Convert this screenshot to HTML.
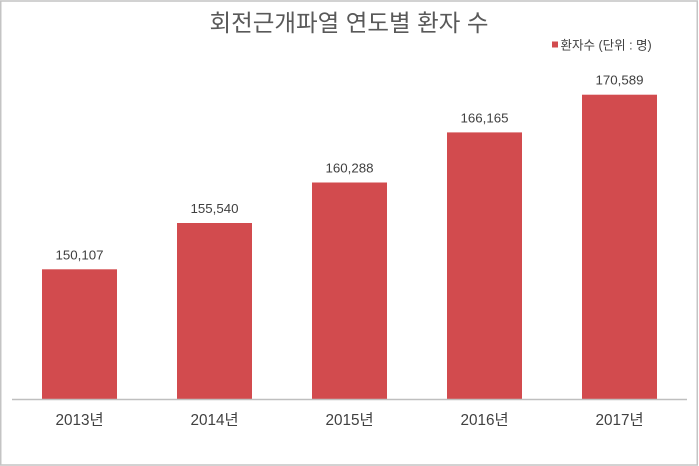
<!DOCTYPE html>
<html><head><meta charset="utf-8"><style>
html,body{margin:0;padding:0;background:#fff;}
svg{display:block;}
</style></head><body>
<svg width="699" height="466" viewBox="0 0 699 466" xmlns="http://www.w3.org/2000/svg">
<rect x="0" y="0" width="699" height="466" fill="#fff"/>
<rect x="0.75" y="1" width="696.5" height="464" fill="none" stroke="#c4c4c4" stroke-width="1.5"/>
<text x="349" y="31" text-anchor="middle" font-family="'Liberation Sans','Noto Sans CJK KR',sans-serif" font-size="23.5" fill="#595959">회전근개파열 연도별 환자 수</text>
<rect x="552" y="41.5" width="6" height="6" fill="#d24b4e"/>
<text x="560.5" y="49.5" font-family="'Liberation Sans','Noto Sans CJK KR',sans-serif" font-size="12.5" fill="#404040">환자수 (단위 : 명)</text>
<g fill="#d24b4e">
<rect x="42" y="269.3" width="75" height="129.7"/>
<rect x="177" y="223" width="75" height="176"/>
<rect x="312" y="182.5" width="75" height="216.5"/>
<rect x="447" y="132.4" width="75" height="266.6"/>
<rect x="582" y="94.7" width="75" height="304.3"/>
</g>
<line x1="12" y1="399.5" x2="687" y2="399.5" stroke="#bfbfbf" stroke-width="1.5"/>
<g font-family="'Liberation Sans','Noto Sans CJK KR',sans-serif" font-size="13.3" fill="#404040" text-anchor="middle">
<text x="79.5" y="259.3">150,107</text>
<text x="214.5" y="213">155,540</text>
<text x="349.5" y="172.5">160,288</text>
<text x="484.5" y="122.4">166,165</text>
<text x="619.5" y="84.7">170,589</text>
</g>
<g font-family="'Liberation Sans','Noto Sans CJK KR',sans-serif" font-size="15.3" fill="#404040" text-anchor="middle">
<text x="79.5" y="425">2013년</text>
<text x="214.5" y="425">2014년</text>
<text x="349.5" y="425">2015년</text>
<text x="484.5" y="425">2016년</text>
<text x="619.5" y="425">2017년</text>
</g>
</svg>
</body></html>
